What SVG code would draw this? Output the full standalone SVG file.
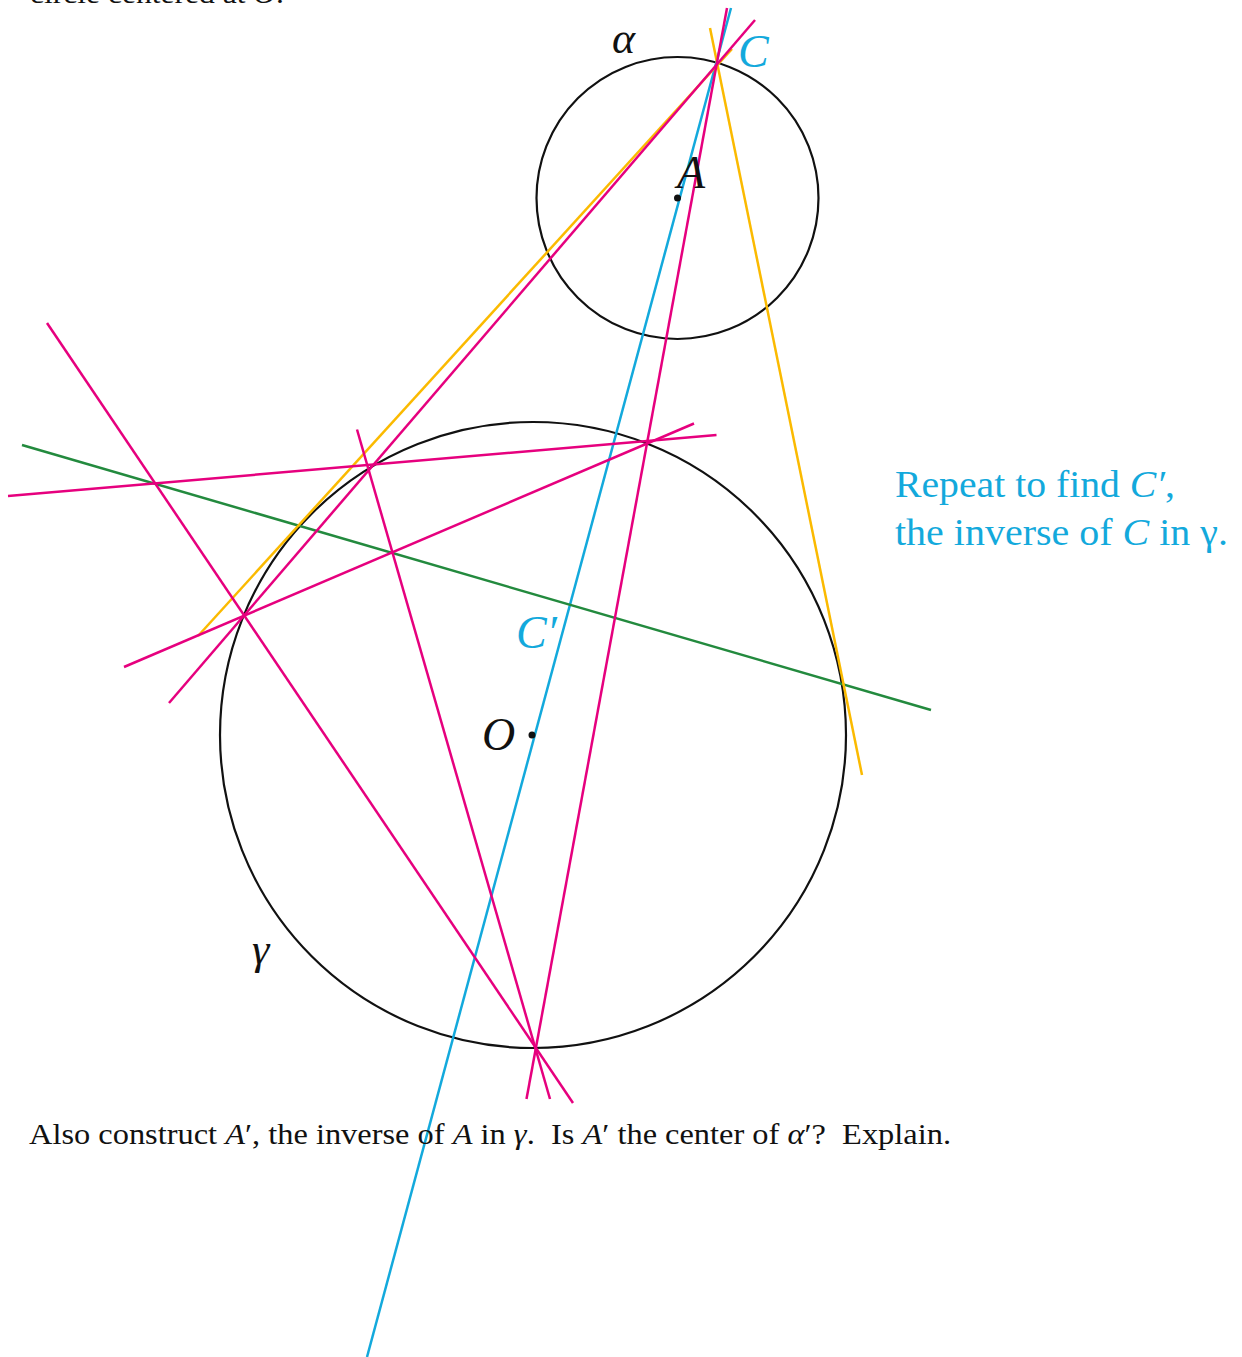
<svg xmlns="http://www.w3.org/2000/svg" width="1242" height="1357" viewBox="0 0 1242 1357">
<style>
.circ{fill:none;stroke:#111;stroke-width:2.2}
.ln{fill:none;stroke-width:2.5;stroke-linecap:butt}
.pink{stroke:#E6007E}
.cyan{stroke:#13A9DC}
.yel{stroke:#FBBA00}
.grn{stroke:#238A3E}
.lbl{font-family:"Liberation Serif",serif;font-style:italic}
.txt{font-family:"Liberation Serif",serif;fill:#111;white-space:pre}
.it{font-style:italic}
</style>
<rect width="1242" height="1357" fill="#fff"/>
<text class="txt" x="30" y="3" font-size="28" textLength="254" lengthAdjust="spacingAndGlyphs">circle centered at <tspan class="it">O</tspan>.</text>
<g id="circle-alpha"><circle class="circ" cx="677.5" cy="198" r="141"/></g>
<g id="circle-gamma"><circle class="circ" cx="533" cy="735" r="313"/></g>
<g id="connectors">
<line class="ln cyan" x1="731" y1="8" x2="367" y2="1357"/>
<line class="ln grn" x1="22" y1="445" x2="931" y2="710"/>
<line class="ln yel" x1="710" y1="28" x2="862" y2="775"/>
<line class="ln yel" x1="732" y1="49" x2="198" y2="636"/>
<line class="ln pink" x1="755" y1="20" x2="169" y2="703"/>
<line class="ln pink" x1="727" y1="8" x2="526.5" y2="1099"/>
<line class="ln pink" x1="8" y1="496" x2="716.5" y2="435"/>
<line class="ln pink" x1="47" y1="323" x2="573" y2="1103"/>
<line class="ln pink" x1="357" y1="429.5" x2="550" y2="1099"/>
<line class="ln pink" x1="124" y1="667" x2="694" y2="423.5"/>
</g>
<g id="point-A"><circle cx="677.5" cy="198" r="3.5" fill="#111"/><text class="lbl" x="677" y="188" font-size="46" fill="#111">A</text></g>
<g id="point-O"><circle cx="532" cy="735" r="3.5" fill="#111"/><text class="lbl" x="482" y="750" font-size="46" fill="#111">O</text></g>
<g id="point-C"><text class="lbl" x="738" y="67" font-size="46" fill="#13A9DC">C</text></g>
<g id="point-Cprime"><text class="lbl" x="516" y="648" font-size="46" fill="#13A9DC">C′</text></g>
<g id="label-alpha"><text class="lbl" x="612" y="53" font-size="44" fill="#111">α</text></g>
<g id="label-gamma"><text class="lbl" x="252" y="964" font-size="44" fill="#111">γ</text></g>
<g id="note" font-family="Liberation Serif, serif" font-size="38" fill="#13A9DC">
<text x="895" y="497" textLength="280" lengthAdjust="spacingAndGlyphs">Repeat to find <tspan class="it">C′</tspan>,</text>
<text x="895" y="545" textLength="333" lengthAdjust="spacingAndGlyphs">the inverse of <tspan class="it">C</tspan> in γ.</text>
</g>
<text class="txt" x="29" y="1144" font-size="29" textLength="922" lengthAdjust="spacingAndGlyphs">Also construct <tspan class="it">A</tspan>′, the inverse of <tspan class="it">A</tspan> in <tspan class="it">γ</tspan>.  Is <tspan class="it">A</tspan>′ the center of <tspan class="it">α</tspan>′?  Explain.</text>
</svg>
